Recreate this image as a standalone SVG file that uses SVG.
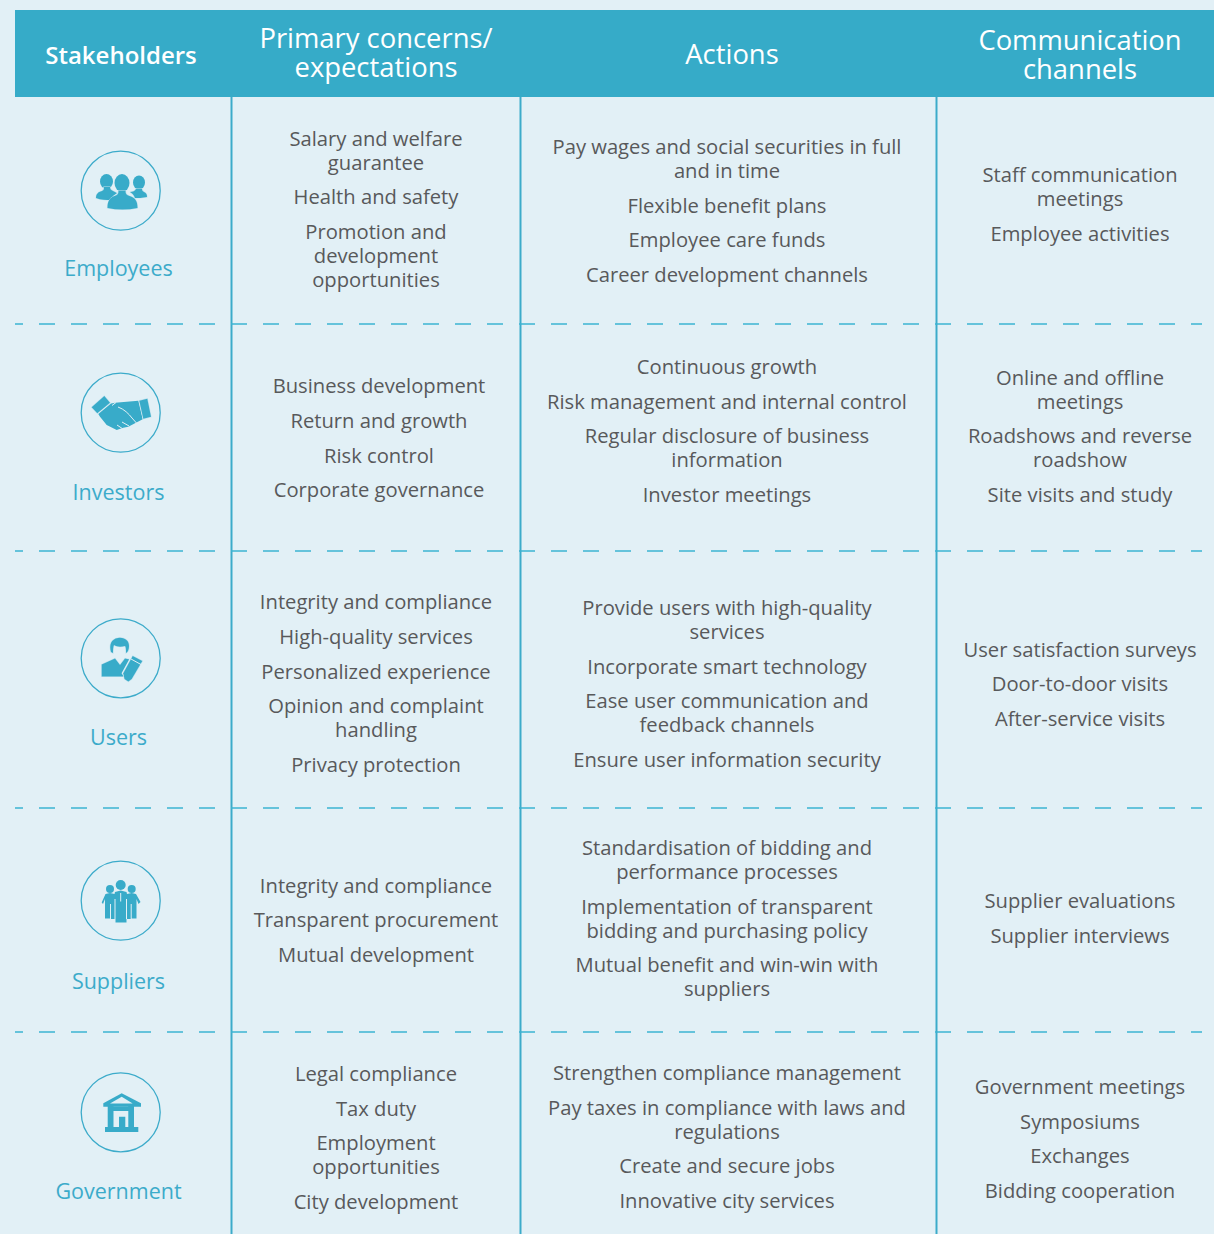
<svg xmlns="http://www.w3.org/2000/svg" width="1214" height="1234" viewBox="0 0 1214 1234">
<style>
text{font-family:"Open Sans","Noto Sans","Liberation Sans",sans-serif;text-anchor:middle}
.b{font-size:20.2px;fill:#58595b}
.l{font-size:21.5px;fill:#3cabca}
.h{font-size:27.4px;fill:#fff}
.hb{font-size:24px;fill:#fff;font-weight:600}
.c{fill:none;stroke:#3cabca;stroke-width:1.3}
.i{fill:#38abc9}
.o{fill:#38abc9;stroke:#c4e3ee;stroke-width:1.2;paint-order:stroke}
.w{fill:none;stroke:#e2f0f6;stroke-width:1}
.v{stroke:#3cabca;stroke-width:2;fill:none}
.d{stroke:#3cb4d2;stroke-width:1.5;fill:none;stroke-dasharray:16 16;stroke-dashoffset:8}
</style>
<rect width="1214" height="1234" fill="#e2f0f6"/>
<rect id="header-band" x="15" y="10" width="1199" height="87" fill="#36abc8"/>
<g id="connectors">
<path class="v" d="M231.5 97V1234M520.5 97V1234M936.5 97V1234"/>
<path class="d" d="M15 324H1202M15 551H1202M15 808H1202M15 1032H1202"/>
</g>
<g id="header">
<text class="hb" x="121" y="64">Stakeholders</text>
<text class="h" x="376" y="48">Primary concerns/</text>
<text class="h" x="376" y="77">expectations</text>
<text class="h" x="732" y="64">Actions</text>
<text class="h" x="1080" y="50">Communication</text>
<text class="h" x="1080" y="79">channels</text>
</g>
<g id="employees">
<circle class="c" cx="120.7" cy="190.7" r="39.5"/>
<ellipse class="i" cx="106.5" cy="181.500" rx="6.500" ry="7.500"/>
<path class="o" d="M96 198c0-4 2-6 6-7 2-1 2-2 2-4h6c0 2 1 3 3 4 2 1 4 2 5 3l-4 3-3 3c-5 0-10 0-15-2z"/>
<ellipse class="i" cx="139" cy="182.500" rx="6" ry="7"/>
<path class="o" d="M130 192c3 0 5-1 6-3h6c0 2 1 2 2 3 2 1 3 2 3 5-5 1-9 1-12 1-1-3-3-5-5-6z"/>
<path fill="#e2f0f6" d="M113 196l7-5h5l7 5 4 12h-26z"/>
<ellipse class="i" cx="122" cy="183" rx="7.500" ry="9"/>
<path class="o" d="M107.500 208c0-7 2-10 7-12 3-1 4-2 4-5h7c0 3 1 4 4 5 6 2 8 5 8 12-10 2-20 2-30 0z"/>
<text class="l" x="118.500" y="276">Employees</text>
</g>
<g id="investors">
<circle class="c" cx="120.7" cy="412.7" r="39.5"/>
<path class="o" d="M91.700 407.300L104.300 396 110 402.700 97.300 413.300z"/>
<path class="i" d="M98.300 414L111 403.500 115 402.700 138.300 400.700 142.700 419.300 135 423.300 128.300 426.700 123.300 427.700 116.700 430 106.700 425 100 416.700z"/>
<path class="o" d="M139.300 400.700L147.300 398.700 151 416.700 143.300 418.700z"/>
<path class="w" d="M118 407c6 2 11 7 14 11l8 9M117 425l6 4M122 422l7 4M116 402.500l-4 3"/>
<text class="l" x="118.500" y="500">Investors</text>
</g>
<g id="users">
<circle class="c" cx="120.7" cy="658.3" r="39.500"/>
<path class="o" d="M111 652c-2-7 0-13 7-14 7-1 11 3 11 8 0 3-1 6-3 7 0-3 0-6-1-7-4 1-8 1-11-1-1 2-1 5-1 8z"/>
<path class="o" d="M101.700 664.500L115 658.500 120 665 125 658.500 132 660 125 676.500H101.700z"/>
<path fill="#e2f0f6" stroke="#e2f0f6" stroke-width="3" d="M132.700 656L142.300 661 131.700 679 128.300 681 123.300 673.300z"/>
<path class="o" d="M132.700 656L142.300 661 131.700 679 128.300 681.500 124.500 679 123.300 673.300z"/>
<path class="w" d="M131 659l10 5.500"/>
<text class="l" x="118.500" y="745">Users</text>
</g>
<g id="suppliers">
<circle class="c" cx="120.700" cy="900.7" r="39.500"/>
<circle class="i" cx="110" cy="889" r="4"/><circle class="i" cx="131.700" cy="889" r="4"/><circle class="i" cx="120.700" cy="885" r="5"/>
<path class="i" d="M101.700 902.500L105.500 894 110 893 114.500 894 115 892 120.700 890.500 126.500 892 127 894 131.700 893 136 894 140.500 902 138.500 904 136.500 899 136.500 918.500H131V919H126.500V922.500H115.500V919H110.500V918.500H105V899L103 904z"/>
<path class="w" d="M120.700 893v8.500M115 899v20M126.500 899v20M110.500 904v15M131.200 904v15"/>
<text class="l" x="118.500" y="989">Suppliers</text>
</g>
<g id="government">
<circle class="c" cx="120.700" cy="1112.300" r="39.500"/>
<path class="w" stroke="#c4e3ee" d="M102 1104l4 4v18l-1 6h34"/>
<path class="i" d="M121.700 1093.300L141 1103.300V1106.700H103.300V1103.300z"/>
<path fill="#e2f0f6" d="M121.700 1096.700L110 1103.500H132.700z"/>
<path class="i" d="M107.700 1106h5.800v21h-5.800zM128.300 1106h5.700v21h-5.700zM105 1127h33.300v5H105zM113 1106.500h16v4.500h-16zM119 1116.700h6.300V1127H119z"/>
<path class="w" d="M116 1127v-12.500h11V1127"/>
<text class="l" x="118.500" y="1199">Government</text>
</g>
<g id="concerns">
<text class="b" x="376" y="146">Salary and welfare</text>
<text class="b" x="376" y="170">guarantee</text>
<text class="b" x="376" y="204">Health and safety</text>
<text class="b" x="376" y="239">Promotion and</text>
<text class="b" x="376" y="263">development</text>
<text class="b" x="376" y="287">opportunities</text>
<text class="b" x="379" y="393">Business development</text>
<text class="b" x="379" y="428">Return and growth</text>
<text class="b" x="379" y="463">Risk control</text>
<text class="b" x="379" y="497">Corporate governance</text>
<text class="b" x="376" y="609">Integrity and compliance</text>
<text class="b" x="376" y="644">High-quality services</text>
<text class="b" x="376" y="679">Personalized experience</text>
<text class="b" x="376" y="713">Opinion and complaint</text>
<text class="b" x="376" y="737">handling</text>
<text class="b" x="376" y="772">Privacy protection</text>
<text class="b" x="376" y="893">Integrity and compliance</text>
<text class="b" x="376" y="927">Transparent procurement</text>
<text class="b" x="376" y="962">Mutual development</text>
<text class="b" x="376" y="1081">Legal compliance</text>
<text class="b" x="376" y="1116">Tax duty</text>
<text class="b" x="376" y="1150">Employment</text>
<text class="b" x="376" y="1174">opportunities</text>
<text class="b" x="376" y="1209">City development</text>
</g>
<g id="actions">
<text class="b" x="727" y="154">Pay wages and social securities in full</text>
<text class="b" x="727" y="178">and in time</text>
<text class="b" x="727" y="213">Flexible benefit plans</text>
<text class="b" x="727" y="247">Employee care funds</text>
<text class="b" x="727" y="282">Career development channels</text>
<text class="b" x="727" y="374">Continuous growth</text>
<text class="b" x="727" y="409">Risk management and internal control</text>
<text class="b" x="727" y="443">Regular disclosure of business</text>
<text class="b" x="727" y="467">information</text>
<text class="b" x="727" y="502">Investor meetings</text>
<text class="b" x="727" y="615">Provide users with high-quality</text>
<text class="b" x="727" y="639">services</text>
<text class="b" x="727" y="674">Incorporate smart technology</text>
<text class="b" x="727" y="708">Ease user communication and</text>
<text class="b" x="727" y="732">feedback channels</text>
<text class="b" x="727" y="767">Ensure user information security</text>
<text class="b" x="727" y="855">Standardisation of bidding and</text>
<text class="b" x="727" y="879">performance processes</text>
<text class="b" x="727" y="914">Implementation of transparent</text>
<text class="b" x="727" y="938">bidding and purchasing policy</text>
<text class="b" x="727" y="972">Mutual benefit and win-win with</text>
<text class="b" x="727" y="996">suppliers</text>
<text class="b" x="727" y="1080">Strengthen compliance management</text>
<text class="b" x="727" y="1115">Pay taxes in compliance with laws and</text>
<text class="b" x="727" y="1139">regulations</text>
<text class="b" x="727" y="1173">Create and secure jobs</text>
<text class="b" x="727" y="1208">Innovative city services</text>
</g>
<g id="channels">
<text class="b" x="1080" y="182">Staff communication</text>
<text class="b" x="1080" y="206">meetings</text>
<text class="b" x="1080" y="241">Employee activities</text>
<text class="b" x="1080" y="385">Online and offline</text>
<text class="b" x="1080" y="409">meetings</text>
<text class="b" x="1080" y="443">Roadshows and reverse</text>
<text class="b" x="1080" y="467">roadshow</text>
<text class="b" x="1080" y="502">Site visits and study</text>
<text class="b" x="1080" y="657">User satisfaction surveys</text>
<text class="b" x="1080" y="691">Door-to-door visits</text>
<text class="b" x="1080" y="726">After-service visits</text>
<text class="b" x="1080" y="908">Supplier evaluations</text>
<text class="b" x="1080" y="943">Supplier interviews</text>
<text class="b" x="1080" y="1094">Government meetings</text>
<text class="b" x="1080" y="1129">Symposiums</text>
<text class="b" x="1080" y="1163">Exchanges</text>
<text class="b" x="1080" y="1198">Bidding cooperation</text>
</g>
</svg>
